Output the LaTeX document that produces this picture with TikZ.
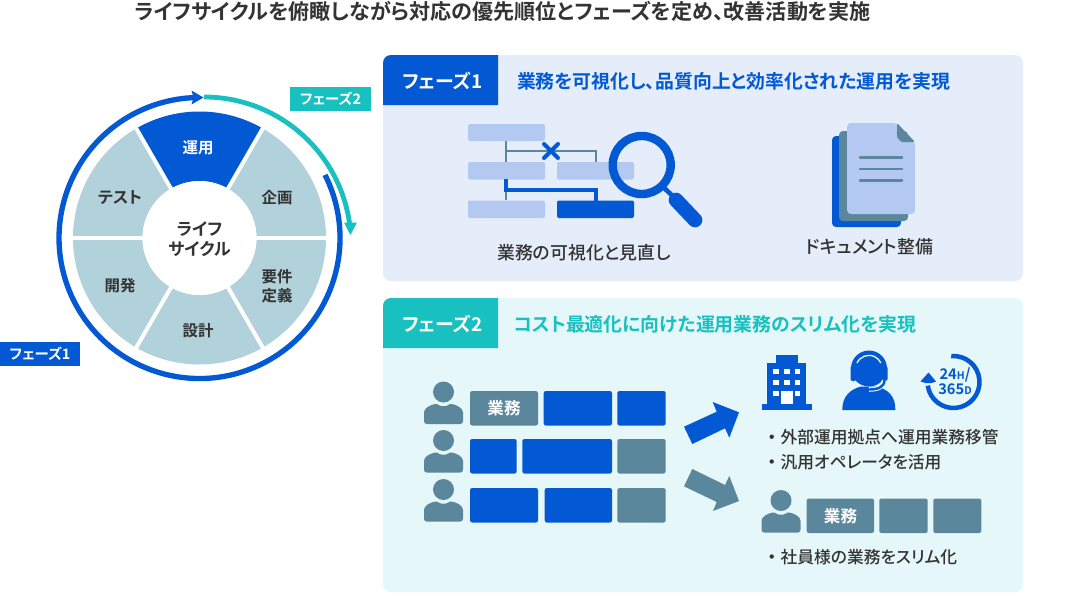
\documentclass[tikz,border=0pt]{standalone}
\usepackage{fontspec}
\setmainfont[RawFeature={+palt},BoldFont={Noto Sans CJK JP Bold}]{Noto Sans CJK JP Medium}
\usetikzlibrary{arrows.meta}
\definecolor{bluec}{HTML}{0359D3}
\definecolor{tealc}{HTML}{19C0C0}
\definecolor{slatec}{HTML}{5B879C}
\definecolor{wheelc}{HTML}{B1D1DB}
\definecolor{lightb}{HTML}{B3C9F2}
\definecolor{panela}{HTML}{E5EDFB}
\definecolor{panelb}{HTML}{E5F7F8}
\definecolor{inkc}{HTML}{333333}
\newcommand{\fz}[2]{\fontsize{#1}{#2}\selectfont}
\tikzset{
 x=0.75pt,y=0.75pt,
 every node/.style={inner sep=0pt,outer sep=0pt,font=\bfseries,text=inkc},
 wheellabel/.style={font=\bfseries\fz{11.6}{14.5},align=center,text=inkc},
 taglabel/.style={font=\bfseries\fz{10.8}{12},text=white},
 phaselabel/.style={font=\bfseries\fz{14.2}{16},text=white},
 phasehead/.style={font=\bfseries\fz{14.15}{17},anchor=west},
 capt/.style={font=\fz{13.4}{16}},
 bullet/.style={font=\fz{12.55}{15},anchor=west},
 box/.style={rounded corners=1.6pt},
 gbox/.style={rounded corners=1.5pt,fill=lightb},
}
\newcommand{\person}[2]{%
 \fill[slatec] (#1,#2+32) circle (10.5);
 \fill[slatec,rounded corners=2pt] (#1-19.5,#2) -- (#1-19.5,#2+9)
   .. controls (#1-19.5,#2+16) and (#1-13,#2+19) .. (#1-6,#2+20.5)
   .. controls (#1-3,#2+17.5) and (#1+3,#2+17.5) .. (#1+6,#2+20.5)
   .. controls (#1+13,#2+19) and (#1+19.5,#2+16) .. (#1+19.5,#2+9) -- (#1+19.5,#2) -- cycle;
}
\begin{document}
\begin{tikzpicture}
\useasboundingbox (0,0) rectangle (1080,-600);
\fill[white] (0,0) rectangle (1080,-600);
\node[font=\bfseries\fz{15.8}{18}] (title) at (502.5,-11) {ライフサイクルを俯瞰しながら対応の優先順位とフェーズを定め、改善活動を実施};

% wheel
\begin{scope}[shift={(199.5,-238)}]
 \foreach \a in {0,120,180,240,300}{
  \fill[wheelc] (\a:57) arc (\a:\a+60:57) -- (\a+60:126.5) arc (\a+60:\a:126.5) -- cycle;}
 \fill[bluec] (60:57) arc (60:120:57) -- (120:126.5) arc (120:60:126.5) -- cycle;
 \foreach \a in {0,60,...,300}{\draw[white,line width=3pt] (\a:55) -- (\a:129);}
 \fill[white] (0,0) circle (57);
 \draw[bluec,line width=4pt] (26.7:140.5) arc (26.7:-268:140.5);
 \fill[bluec] (4,140.5) -- (-8,147.5) -- (-6,140.5) -- (-8,133.5) -- cycle;
\end{scope}
\draw[tealc,line width=3.6pt] (204,-97) arc (90:8:147);
\fill[tealc] (350.4,-235) -- (344,-222.5) -- (357,-222.5) -- cycle;
\node[wheellabel,text=white] (w1) at (198,-148) {運用};
\node[wheellabel] (w2) at (277,-198) {企画};
\node[wheellabel] (w3) at (277,-286) {要件\\定義};
\node[wheellabel] (w4) at (198,-331) {設計};
\node[wheellabel] (w5) at (120,-286) {開発};
\node[wheellabel,font=\bfseries\fz{12.2}{15}] (w6) at (120,-198) {テスト};
\node[wheellabel,font=\bfseries\fz{12.8}{15}] (w0) at (199.5,-239.5) {ライフ\\サイクル};
\fill[tealc] (290,-87) rectangle (371,-111);
\node[taglabel] (t2) at (330.5,-99) {フェーズ2};
\fill[bluec] (0,-341.5) rectangle (80,-366);
\node[taglabel] (t1) at (40,-354) {フェーズ1};

% panels
\fill[panela,rounded corners=6pt] (383,-55) rectangle (1023,-281);
\fill[bluec] (383,-63) arc (180:90:8) -- (498,-55) -- (498,-105) -- (383,-105) -- cycle;
\node[phaselabel] (p1) at (442.5,-81) {フェーズ1};
\node[phasehead,text=bluec] (h1) at (517,-81) {業務を可視化し、品質向上と効率化された運用を実現};
\fill[panelb,rounded corners=6pt] (383,-298) rectangle (1023,-592);
\fill[tealc] (383,-306) arc (180:90:8) -- (498,-298) -- (498,-348) -- (383,-348) -- cycle;
\node[phaselabel] (p2) at (442.5,-324) {フェーズ2};
\node[phasehead,text=tealc] (h2) at (514,-324) {コスト最適化に向けた運用業務のスリム化を実現};

% gantt
\draw[slatec,line width=1.7pt] (506,-141) -- (506,-162) (506,-151) -- (596,-151) -- (596,-162) (506,-190) -- (506,-200);
\fill[gbox] (468,-124) rectangle (545,-141);
\fill[gbox] (468,-162) rectangle (545,-179.5);
\fill[gbox] (557,-162) rectangle (634,-179.5);
\fill[gbox] (468,-200.5) rectangle (545,-218);
\fill[gbox,fill=bluec] (557,-200.5) rectangle (634,-218);
\draw[bluec,line width=3pt,line cap=round] (544,-144) -- (558,-158) (544,-158) -- (558,-144);
\draw[bluec,line width=3pt] (506,-179) -- (506,-190) -- (596,-190) -- (596,-200.5);
\draw[bluec,line width=6.3pt] (641.7,-165) circle (29);
\draw[bluec,line width=3.5pt] (662,-186) -- (678,-201);
\draw[bluec,line width=11pt,line cap=round] (676,-200) -- (695,-220);
\node[capt] (c1) at (584,-253) {業務の可視化と見直し};

% documents
\fill[bluec,rounded corners=3pt] (832,-136) rectangle (901,-227);
\fill[slatec,rounded corners=3pt] (839,-131) rectangle (908,-221);
\fill[lightb,rounded corners=3pt] (847,-123) -- (896.5,-123) -- (915,-142) -- (915,-214) -- (847,-214) -- cycle;
\fill[slatec,rounded corners=1pt] (897,-123) -- (915,-142) -- (901,-142) -- (897,-137) -- cycle;
\draw[slatec,line width=2.2pt,line cap=round] (860,-157.3) -- (902,-157.3) (860,-169) -- (902,-169) (860,-180.3) -- (902,-180.3);
\node[capt] (c2) at (869.5,-247) {ドキュメント整備};

% rows
\person{443.5}{-424}
\person{443.5}{-472.5}
\person{443.5}{-521.5}
\fill[box,fill=slatec] (470,-391) rectangle (538,-425.5);
\node[font=\bfseries\fz{12.4}{15},text=white] (g1) at (504,-408) {業務};
\fill[box,fill=bluec] (543.7,-391) rectangle (612,-425.5);
\fill[box,fill=bluec] (617.3,-391) rectangle (665.7,-425.5);
\fill[box,fill=bluec] (470,-439) rectangle (516.7,-473.5);
\fill[box,fill=bluec] (522.3,-439) rectangle (612,-473.5);
\fill[box,fill=slatec] (617.3,-439) rectangle (665.7,-473.5);
\fill[box,fill=bluec] (470,-488) rectangle (538,-522.5);
\fill[box,fill=bluec] (544.7,-488) rectangle (612,-522.5);
\fill[box,fill=slatec] (617.3,-488) rectangle (665.7,-522.5);

% arrows
\fill[bluec] (684,-426.7) -- (716.7,-411.7) -- (712.7,-402) -- (739,-412.3) -- (729.3,-437.7) -- (725,-428.3) -- (692.3,-444) -- cycle;
\fill[slatec] (692.3,-469) -- (725,-485) -- (729.3,-476) -- (739,-501) -- (713,-511) -- (716.7,-502) -- (684,-486.3) -- cycle;

% building
\fill[bluec] (762,-404) rectangle (811.7,-410);
\fill[bluec] (767.3,-362.7) rectangle (806,-404);
\fill[bluec] (776,-355) rectangle (797.7,-363);
\foreach \x in {773.3,784.3,795}{\foreach \y in {368.7,380}{\fill[white] (\x,-\y) rectangle +(5.3,-5.3);}}
\fill[white] (773.3,-391) rectangle +(5.3,-5.3);
\fill[white] (795,-391) rectangle +(5.3,-5.3);
\fill[white] (781,-391) rectangle (792.7,-404);

% operator
\fill[bluec] (842.3,-410) .. controls (842,-396) and (851,-389) .. (861,-386.5) -- (877,-386.5) .. controls (887,-389) and (896,-396) .. (895.3,-410) -- cycle;
\fill[bluec] (869,-368.5) circle (18);
\fill[bluec,rounded corners=1.5pt] (850.5,-366) rectangle (856,-381);
\fill[bluec,rounded corners=1.5pt] (882,-366) rectangle (887.5,-381);
\draw[panelb,line width=1pt] (857,-363) arc (155:25:13.2);
\draw[panelb,line width=3.4pt] (884,-380) .. controls (884,-387) and (878,-389.5) .. (869,-389.5);
\draw[bluec,line width=1.8pt,line cap=round] (884.5,-380) .. controls (884.5,-387) and (878,-389.5) .. (869,-389.5);

% 24h
\begin{scope}[shift={(953.5,-382)}]
 \draw[bluec,line width=3.4pt] (95:26) arc (95:-172:26);
 \fill[bluec] (-25,9.5) -- (-33,0.5) -- (-28,-1) -- (-22,-1) -- (-17.5,0.5) -- cycle;
\end{scope}
\node[font=\bfseries\fz{11}{9.7},text=bluec,align=center] (h24) at (955,-381.5) {24{\fz{7.8}{9}H}/\\365{\fz{7.8}{9}D}};

% bullets
\fill[inkc] (771.7,-436.7) circle (2.2);
\node[bullet] (b1) at (780.7,-437) {外部運用拠点へ運用業務移管};
\fill[inkc] (771.7,-461.5) circle (2.2);
\node[bullet] (b2) at (780.7,-462) {汎用オペレータを活用};

% bottom row
\person{781}{-532.5}
\fill[box,fill=slatec] (806.7,-498.5) rectangle (874,-533);
\node[font=\bfseries\fz{12.4}{15},text=white] (g2) at (840.5,-516) {業務};
\fill[box,fill=slatec] (879.3,-498.5) rectangle (927.7,-533);
\fill[box,fill=slatec] (933.3,-498.5) rectangle (981.3,-533);
\fill[inkc] (771.7,-556.5) circle (2.2);
\node[bullet] (b3) at (780.7,-557) {社員様の業務をスリム化};
\end{tikzpicture}
\end{document}
